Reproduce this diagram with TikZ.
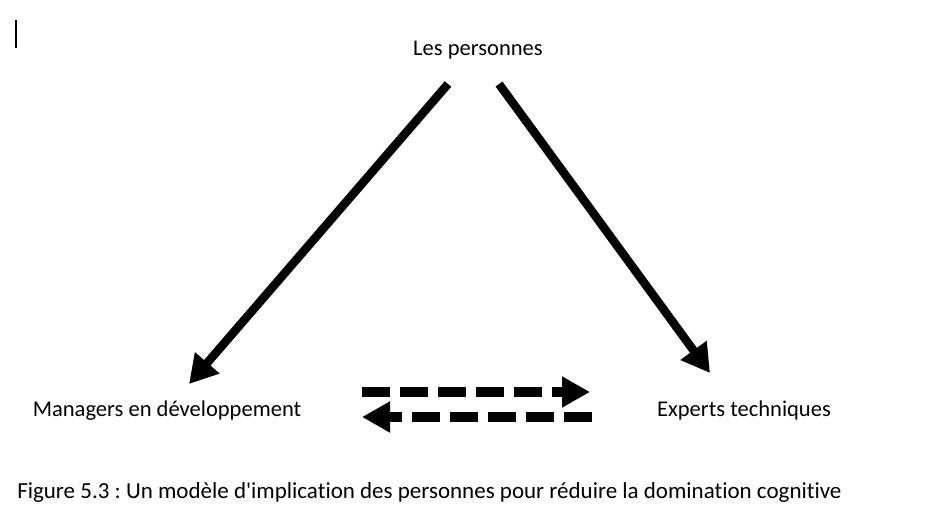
\documentclass[tikz,border=0pt]{standalone}
\usepackage{fontspec}
\setmainfont{Carlito}[Ligatures=NoCommon]
\usetikzlibrary{arrows.meta}
\frenchspacing

\begin{document}
\begin{tikzpicture}[x=0.75pt,y=-0.75pt,
    lbl/.style={inner sep=0pt, font=\fontsize{16.9}{20}\selectfont},
    bigarrow/.style={line width=6.4pt, -{Triangle[length=21pt,width=23pt]}},
    dasharrow/.style={line width=6.8pt, dash pattern=on 21pt off 7.5pt, -{Triangle[length=21pt,width=22pt]}}]
    \useasboundingbox (0,0) rectangle (949,506);
    % text cursor
    \draw[line width=1.2pt] (16,20) -- (16,48);

    \node[lbl, anchor=base] (pers) at (478,56) {Les personnes};
    \node[lbl, anchor=base] (mgr) at (167,416) {Managers en développement};
    \node[lbl, anchor=base] (expt) at (744,416) {Experts techniques};
    \node[lbl, anchor=base west, font=\fontsize{17.25}{20}\selectfont] (cap) at (17,498) {Figure 5.3 : Un modèle d\textquotesingle implication des personnes pour réduire la domination cognitive};

    \draw[bigarrow] ([xshift=-22.5pt,yshift=-21pt]pers.base) -- ([xshift=16.5pt,yshift=24pt]mgr.base);
    \draw[bigarrow] ([xshift=15.75pt,yshift=-21pt]pers.base) -- ([xshift=-25.5pt,yshift=32.25pt]expt.base);
    % dashed exchange
    \draw[dasharrow] ([xshift=146.25pt,yshift=18pt]mgr.base) -- ([xshift=-115.5pt,yshift=18pt]expt.base);
    \draw[dasharrow] ([xshift=-114pt,yshift=-0.75pt]expt.base) -- ([xshift=146.25pt,yshift=-0.75pt]mgr.base);
  \end{tikzpicture}
\end{document}
